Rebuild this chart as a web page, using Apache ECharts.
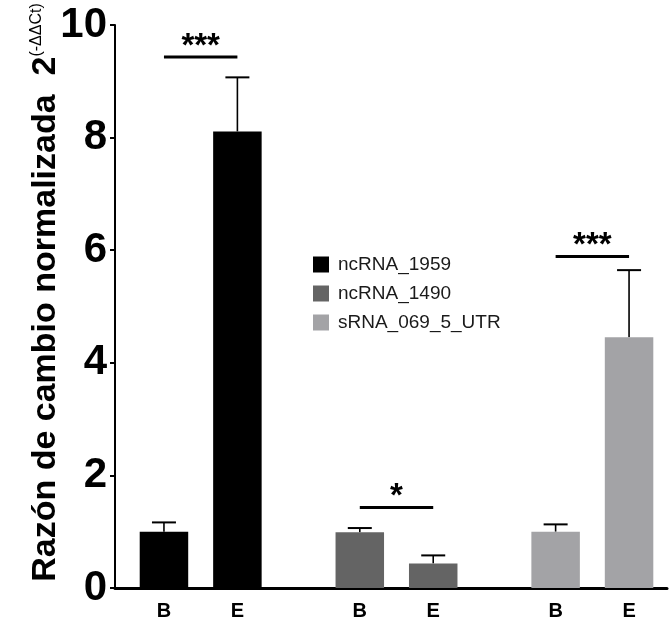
<!DOCTYPE html>
<html>
<head>
<meta charset="utf-8">
<script src="https://cdn.jsdelivr.net/npm/echarts@6/dist/echarts.min.js"></script>
<style>
html,body{margin:0;padding:0;background:#fff;}
#chart{width:670px;height:621px;}
</style>
</head>
<body>
<div id="chart"></div>
<script>
// ---- data ----
const genes = ['ncRNA_1959', 'ncRNA_1490', 'sRNA_069_5_UTR'];
const conditions = ['B', 'E'];
const mean1959 = [1.00, 8.11];
const err1959 = [0.165, 0.96];
const mean1490 = [0.99, 0.437];
const err1490 = [0.075, 0.142];
const meanUTR = [1.00, 4.456];
const errUTR = [0.13, 1.19];
const sigLevel = [9.43, 1.43, 5.89];
const sigLabel = ['***', '*', '***'];
const yTicks = [0, 2, 4, 6, 8, 10];

// ---- layout helpers (slot positions along the x axis) ----
const colors = ['#000000', '#646464', '#a3a3a6'];
const means = [mean1959, mean1490, meanUTR];
const errs = [err1959, err1490, errUTR];
function slotOf(g, c) { return 2 + g * 8 + c * 3; }
const slotLabel = {};
for (let g = 0; g < genes.length; g++) for (let c = 0; c < conditions.length; c++) slotLabel[slotOf(g, c)] = conditions[c];
const X_MAX = 22.55;

const series = [];
genes.forEach((name, g) => {
  series.push({
    name: name, type: 'bar', barWidth: 48.5, barGap: '-100%',
    data: conditions.map((c, ci) => [slotOf(g, ci), means[g][ci]]),
    itemStyle: { color: colors[g] }, silent: true, animation: false
  });
});

const errData = [];
genes.forEach((name, g) => conditions.forEach((c, ci) => {
  errData.push([slotOf(g, ci), means[g][ci], means[g][ci] + errs[g][ci]]);
}));
series.push({
  type: 'custom', data: errData, animation: false, silent: true,
  renderItem: function (params, api) {
    const x = api.value(0);
    const p0 = api.coord([x, api.value(1)]);
    const p1 = api.coord([x, api.value(2)]);
    const cap = 12;
    return {
      type: 'group', children: [
        { type: 'line', shape: { x1: p0[0], y1: p0[1], x2: p1[0], y2: p1[1] }, style: { stroke: '#000', lineWidth: 1.6 } },
        { type: 'line', shape: { x1: p1[0] - cap, y1: p1[1], x2: p1[0] + cap, y2: p1[1] }, style: { stroke: '#000', lineWidth: 2 } }
      ]
    };
  }
});

const sigData = genes.map((n, g) => [slotOf(g, 0), slotOf(g, 1), sigLevel[g], g]);
series.push({
  type: 'custom', data: sigData, animation: false, silent: true,
  renderItem: function (params, api) {
    const a = api.coord([api.value(0), api.value(2)]);
    const b = api.coord([api.value(1), api.value(2)]);
    const txt = sigLabel[api.value(3)];
    return {
      type: 'group', children: [
        { type: 'line', shape: { x1: a[0], y1: a[1], x2: b[0], y2: b[1] }, style: { stroke: '#000', lineWidth: 3 } },
        { type: 'text', x: (a[0] + b[0]) / 2, y: a[1] + 6,
          style: { text: txt, fill: '#000', font: 'bold 33px "Liberation Sans", Arial, sans-serif', align: 'center', verticalAlign: 'bottom' } }
      ]
    };
  }
});

const chart = echarts.init(document.getElementById('chart'), null, { renderer: 'canvas' });
chart.setOption({
  animation: false,
  backgroundColor: '#ffffff',
  textStyle: { fontFamily: '"Liberation Sans", Arial, sans-serif' },
  grid: { left: 115, top: 25, right: 0, bottom: 32.7, containLabel: false },
  legend: {
    data: genes, orient: 'vertical', left: 313, top: 255, padding: 0,
    itemWidth: 16, itemHeight: 16, itemGap: 10, icon: 'rect',
    textStyle: { fontSize: 19, color: '#1a1a1a', padding: [0, 0, 0, 4] }
  },
  xAxis: {
    type: 'value', min: 0, max: X_MAX, interval: 1,
    axisLine: { onZero: false, lineStyle: { color: '#000', width: 3 } },
    axisTick: { show: false },
    axisLabel: {
      fontSize: 20, fontWeight: 'bold', color: '#000', margin: 13, showMinLabel: true, showMaxLabel: true,
      formatter: function (v) { return slotLabel[Math.round(v)] && Math.abs(v - Math.round(v)) < 1e-6 ? slotLabel[Math.round(v)] : ''; }
    },
    splitLine: { show: false }
  },
  yAxis: {
    type: 'value', min: yTicks[0], max: yTicks[yTicks.length - 1], interval: 2,
    axisLine: { show: true, lineStyle: { color: '#000', width: 2 } },
    axisTick: { show: true, length: 5, lineStyle: { color: '#000', width: 2 } },
    axisLabel: { fontSize: 42, fontWeight: 'bold', color: '#000', margin: 8 },
    splitLine: { show: false },
    name: '{p|}{m|Razón de cambio normalizada  2}{s|(-ΔΔCt)}',
    nameLocation: 'middle', nameGap: 52, nameMoveOverlap: false,
    nameTextStyle: {
      rich: {
        p: { width: 28 },
        m: { fontSize: 34, fontWeight: 'bold', color: '#000', verticalAlign: 'bottom' },
        s: { fontSize: 16, color: '#000', verticalAlign: 'top' }
      }
    }
  },
  series: series
});
</script>
</body>
</html>
